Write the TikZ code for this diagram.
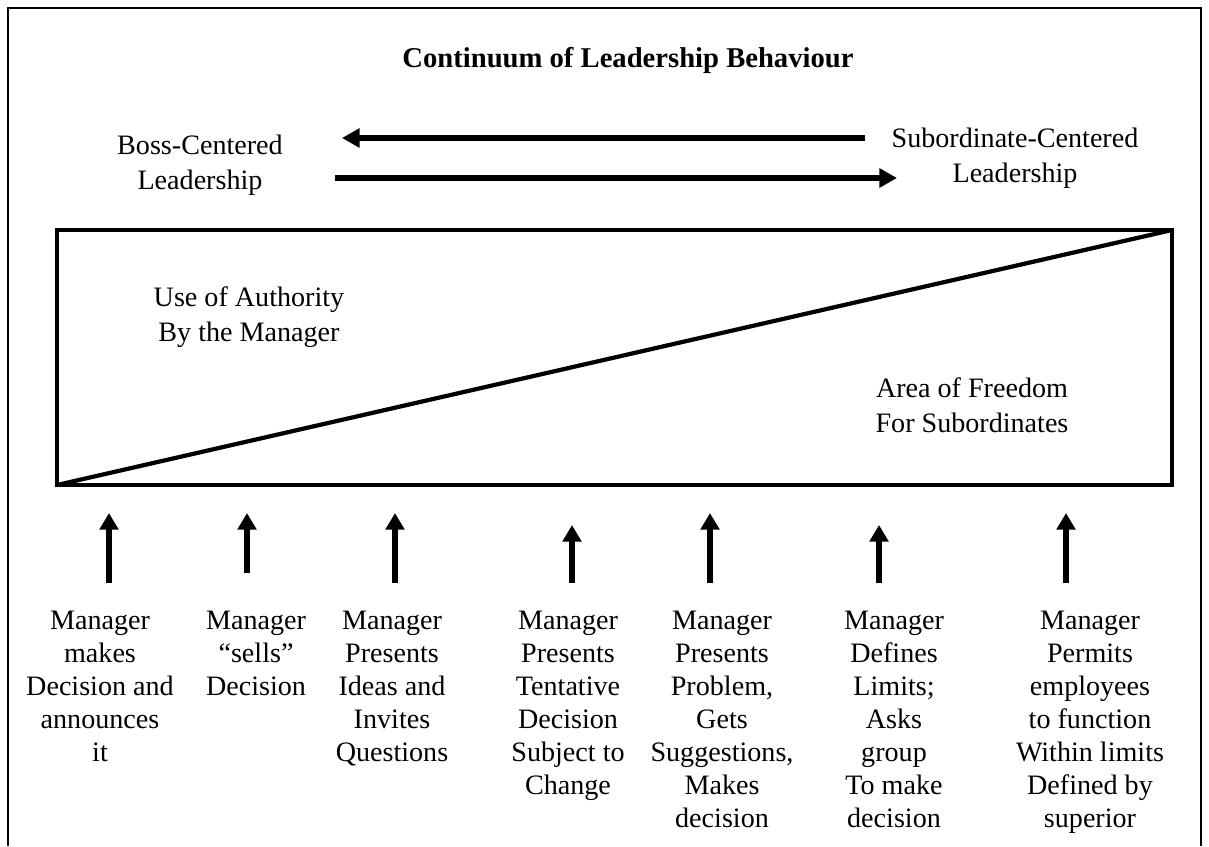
\documentclass[tikz,border=0pt]{standalone}
\usepackage{fontspec}
\setmainfont{Liberation Serif}
\usetikzlibrary{arrows.meta}

\begin{document}
\begin{tikzpicture}[x=0.02cm,y=-0.02cm,
  heading/.style={font=\bfseries\fontsize{16.3}{19}\selectfont,inner sep=0pt},
  sidetext/.style={align=center,font=\fontsize{16}{19.9}\selectfont,inner sep=0pt},
  choice/.style={align=center,anchor=north,font=\fontsize{16}{18.8}\selectfont,inner sep=0pt},
  flow/.style={line width=3pt,-{Triangle[length=10pt,width=10.5pt]}},
  uparrow/.style={line width=3pt,-{Triangle[length=9.5pt,width=10.5pt]}}]
  \useasboundingbox (0,0) rectangle (1209,846);
  \draw[line width=1.2pt] (8,846) -- (8,8) -- (1201,8) -- (1201,846); % page frame

  \node[heading] (title) at (628,60) {Continuum of Leadership Behaviour};
  \node[sidetext] (boss) at (200,165) {Boss-Centered\\Leadership};
  \node[sidetext] (sub) at (1015,158) {Subordinate-Centered\\Leadership};

  \coordinate (leftfrom) at (865,138);
  \coordinate (leftto) at (342,138);
  \coordinate (rightfrom) at (335,178);
  \coordinate (rightto) at (897,178);
  \draw[flow] (leftfrom) -- (leftto);
  \draw[flow] (rightfrom) -- (rightto);

  % box with the split of authority and freedom
  \coordinate (bl) at (57,485);
  \coordinate (tr) at (1172,230);
  \draw[line width=2.8pt] (bl) rectangle (tr);
  \draw[line width=2.4pt] (bl) -- (tr);
  \node[sidetext] (use) at (249,317) {Use of Authority\\By the Manager};
  \node[sidetext] (free) at (972,405) {Area of Freedom\\For Subordinates};

  \node[choice] (m1) at (100,611) {Manager\\makes\\Decision and\\announces\\it};
  \node[choice] (m2) at (256,611) {Manager\\“sells”\\Decision};
  \node[choice] (m3) at (392,611) {Manager\\Presents\\Ideas and\\Invites\\Questions};
  \node[choice] (m4) at (568,611) {Manager\\Presents\\Tentative\\Decision\\Subject to\\Change};
  \node[choice] (m5) at (722,611) {Manager\\Presents\\Problem,\\Gets\\Suggestions,\\Makes\\decision};
  \node[choice] (m6) at (894,611) {Manager\\Defines\\Limits;\\Asks\\group\\To make\\decision};
  \node[choice] (m7) at (1090,611) {Manager\\Permits\\employees\\to function\\Within limits\\Defined by\\superior};

  \foreach \i/\ax/\top/\bot in {1/109/513/583,2/247/513/573,3/395/513/583,4/572/525/583,5/710/513/583,6/879/525/583,7/1066/513/583}{
    \coordinate (a\i) at (\ax,\bot);
    \coordinate (b\i) at (\ax,\top);
    \draw[uparrow] (a\i) -- (b\i); % draw arrow over each choice
  }
\end{tikzpicture}
\end{document}
